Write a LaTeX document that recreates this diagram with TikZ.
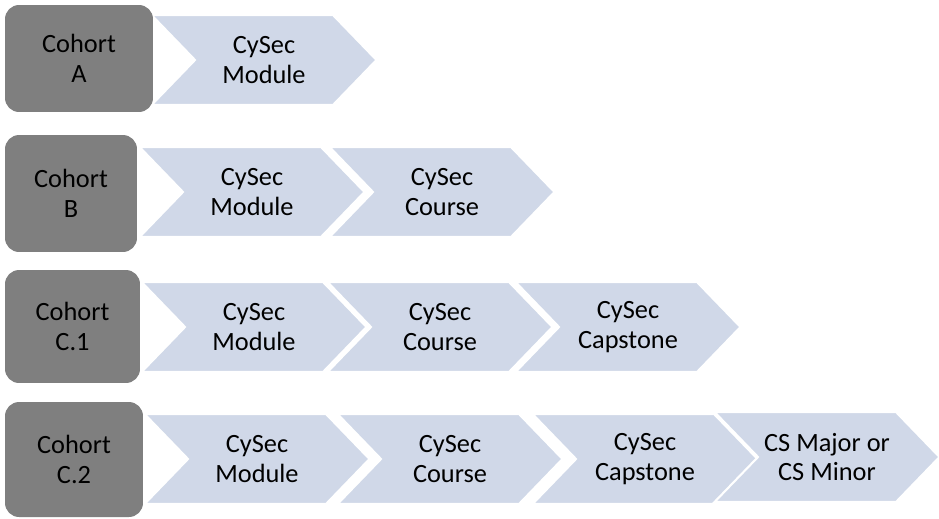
\documentclass[tikz,border=0pt]{standalone}
\usepackage{fontspec}
\setmainfont{Carlito}
\usetikzlibrary{shapes.symbols}
\definecolor{chevfill}{HTML}{D0D8E8}
\definecolor{boxfill}{HTML}{7F7F7F}

\begin{document}
\begin{tikzpicture}[x=0.02cm, y=-0.02cm]
    \tikzstyle{cohort}=[fill=boxfill, rounded corners=8pt, inner sep=0pt, align=center, font=\fontsize{15}{17}\selectfont]
    \tikzstyle{chev}=[signal, signal to=east, signal from=west, signal pointer angle=92, fill=chevfill, draw=white, line width=1.2pt, minimum width=4.5cm, minimum height=1.8cm, inner sep=0pt, align=center, font=\fontsize{15}{17}\selectfont]
    \useasboundingbox (0,0) rectangle (939,518);
    % chevrons, left to right so the later ones sit on top
    \foreach \n/\x/\y/\t in
    {aMod/264/60/{CySec\\Module},
     bMod/252/192/{CySec\\Module}, bCrs/442/192/{CySec\\Course},
     caMod/254/327/{CySec\\Module}, caCrs/440/327/{CySec\\Course}, caCap/628/327/{CySec\\Capstone},
     cbMod/257/459/{CySec\\Module}, cbCrs/450/459/{CySec\\Course}, cbCap/645/459/{CySec\\Capstone}, cbMaj/827/457/{CS Major or\\CS Minor}}
    {\node[chev] (\n) at (\x,\y) {\t};}
    % cohort boxes on top
    \node[cohort, minimum width=2.96cm, minimum height=2.14cm] (A) at (79,58.5) {Cohort\\A};
    \node[cohort, minimum width=2.64cm, minimum height=2.34cm] (B) at (71,193.5) {Cohort\\B};
    \node[cohort, minimum width=2.70cm, minimum height=2.26cm] (C1) at (72.5,326.5) {Cohort\\C.1};
    \node[cohort, minimum width=2.76cm, minimum height=2.30cm] (C2) at (74,459.5) {Cohort\\C.2};
\end{tikzpicture}
\end{document}
